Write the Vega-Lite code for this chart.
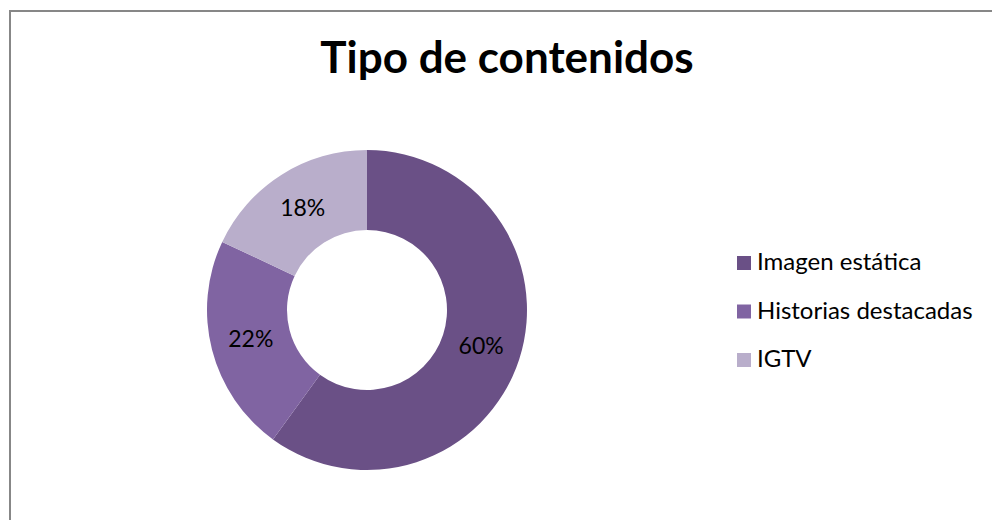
{
  "$schema": "https://vega.github.io/schema/vega-lite/v6.json",
  "width": 1000,
  "height": 530,
  "autosize": {"type": "none"},
  "padding": {"left": 10, "top": 11, "right": 0, "bottom": 0},
  "background": "white",
  "title": {
    "text": "Tipo de contenidos",
    "font": "Lato",
    "fontSize": 44,
    "fontWeight": "bold",
    "color": "#000000",
    "anchor": "middle",
    "baseline": "alphabetic",
    "orient": "top",
    "offset": -65,
    "dx": -3,
    "dy": 41
  },
  "config": {
    "view": {"stroke": "#878787", "strokeWidth": 2},
    "font": "Lato"
  },
  "data": {
    "values": [
      {"tipo": "Imagen estática", "valor": 60, "orden": 1, "etiqueta": "60%"},
      {"tipo": "Historias destacadas", "valor": 22, "orden": 2, "etiqueta": "22%"},
      {"tipo": "IGTV", "valor": 18, "orden": 3, "etiqueta": "18%"}
    ]
  },
  "encoding": {
    "x": {"datum": 357, "type": "quantitative", "scale": {"domain": [0, 1000], "range": [0, 1000]}, "axis": null},
    "y": {"datum": 299, "type": "quantitative", "scale": {"domain": [0, 530], "range": [0, 530]}, "axis": null},
    "theta": {"field": "valor", "type": "quantitative", "stack": true},
    "order": {"field": "orden", "type": "quantitative"}
  },
  "layer": [
    {
      "mark": {"type": "arc", "outerRadius": 160, "innerRadius": 80},
      "encoding": {
        "color": {
          "field": "tipo",
          "type": "nominal",
          "sort": ["Imagen estática", "Historias destacadas", "IGTV"],
          "scale": {
            "domain": ["Imagen estática", "Historias destacadas", "IGTV"],
            "range": ["#6A5086", "#8064A2", "#B9AECB"]
          },
          "legend": {
            "title": null,
            "orient": "none",
            "legendX": 722,
            "legendY": 240,
            "padding": 0,
            "symbolType": "square",
            "symbolSize": 196,
            "symbolStrokeWidth": 0,
            "labelFont": "Lato",
            "labelFontSize": 24,
            "labelColor": "#000000",
            "labelOffset": 1,
            "rowPadding": 24.5,
            "labelLimit": 400
          }
        }
      }
    },
    {
      "mark": {"type": "text", "radius": 120, "font": "Lato", "fontSize": 23, "color": "#000000"},
      "encoding": {
        "text": {"field": "etiqueta", "type": "nominal"}
      }
    }
  ]
}
